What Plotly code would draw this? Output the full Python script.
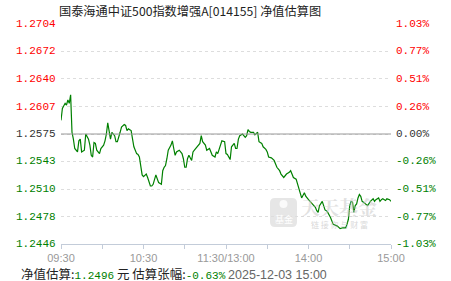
import plotly.graph_objects as go

# ---------------- data ----------------
title_text = "国泰海通中证500指数增强A[014155] 净值估算图"
base_nav = 1.2575
times = ["09:30","09:31","09:33","09:34","09:35","09:36","09:37","09:38","09:39","09:40",
         "09:42","09:43","09:44","09:45","09:47","09:48","09:50","09:51","09:52","09:53",
         "09:54","09:55","09:56","09:58","09:59","10:01","10:02","10:03","10:04","10:05",
         "10:06","10:07","10:09","10:10","10:11","10:13","10:14","10:16","10:17","10:18",
         "10:19","10:21","10:22","10:23","10:25","10:26","10:27","10:28","10:29","10:30",
         "10:32","10:33","10:35","10:36","10:37","10:39","10:40","10:41","10:43","10:44",
         "10:45","10:46","10:47","10:48","10:50","10:51","10:52","10:53","10:54","10:56",
         "10:58","10:59","11:00","11:01","11:02","11:03","11:05","11:06","11:07","11:09",
         "11:11","11:12","11:13","11:15","11:16","11:18","11:19","11:20","11:22","11:23",
         "11:24","11:26","11:27","11:29","11:30","13:01","13:02","13:03","13:04","13:06",
         "13:07","13:08","13:09","13:10","13:12","13:14","13:15","13:16","13:17","13:18",
         "13:20","13:21","13:23","13:24","13:26","13:27","13:29","13:30","13:31","13:33",
         "13:35","13:36","13:37","13:39","13:40","13:42","13:43","13:44","13:46","13:47",
         "13:48","13:49","13:51","13:52","13:54","13:55","13:57","13:58","14:00","14:01",
         "14:02","14:04","14:05","14:06","14:07","14:08","14:10","14:11","14:12","14:13",
         "14:14","14:16","14:17","14:18","14:21","14:22","14:23","14:25","14:27","14:28",
         "14:29","14:30","14:31","14:32","14:33","14:34","14:35","14:36","14:37","14:38",
         "14:39","14:40","14:42","14:43","14:45","14:47","14:48","14:49","14:51","14:52",
         "14:53","14:54","14:56","14:57","14:59","15:00"]
navs = [1.2591,1.2605,1.2611,1.2609,1.2615,1.2611,1.2621,1.2577,1.2569,1.2558,
        1.2554,1.2567,1.2569,1.2554,1.2556,1.2575,1.2569,1.2562,1.2550,1.2548,
        1.2565,1.2564,1.2556,1.2552,1.2558,1.2562,1.2567,1.2575,1.2588,1.2577,
        1.2569,1.2577,1.2573,1.2566,1.2566,1.2577,1.2583,1.2586,1.2585,1.2579,
        1.2581,1.2579,1.2571,1.2560,1.2552,1.2551,1.2548,1.2534,1.2527,1.2525,
        1.2528,1.2524,1.2514,1.2514,1.2516,1.2527,1.2522,1.2518,1.2516,1.2532,
        1.2536,1.2538,1.2546,1.2556,1.2562,1.2567,1.2558,1.2550,1.2554,1.2556,
        1.2552,1.2546,1.2536,1.2536,1.2546,1.2550,1.2544,1.2554,1.2556,1.2560,
        1.2564,1.2573,1.2566,1.2562,1.2556,1.2558,1.2554,1.2550,1.2548,1.2554,
        1.2552,1.2564,1.2567,1.2566,1.2552,1.2551,1.2547,1.2545,1.2560,1.2564,
        1.2558,1.2558,1.2569,1.2573,1.2575,1.2571,1.2573,1.2580,1.2578,1.2577,
        1.2577,1.2574,1.2577,1.2566,1.2564,1.2560,1.2557,1.2554,1.2548,1.2547,
        1.2544,1.2540,1.2536,1.2532,1.2528,1.2524,1.2526,1.2528,1.2530,1.2532,
        1.2528,1.2524,1.2522,1.2516,1.2506,1.2500,1.2506,1.2502,1.2498,1.2496,
        1.2495,1.2491,1.2489,1.2485,1.2483,1.2491,1.2496,1.2491,1.2486,1.2485,
        1.2483,1.2477,1.2473,1.2469,1.2467,1.2465,1.2464,1.2465,1.2465,1.2469,
        1.2475,1.2491,1.2496,1.2495,1.2483,1.2491,1.2493,1.2500,1.2504,1.2502,
        1.2496,1.2495,1.2493,1.2491,1.2496,1.2499,1.2496,1.2498,1.2500,1.2496,
        1.2498,1.2499,1.2497,1.2499,1.2498,1.2496]

nav_ticks = ["1.2704","1.2672","1.2640","1.2607","1.2575","1.2543","1.2510","1.2478","1.2446"]
pct_ticks = ["1.03%","0.77%","0.51%","0.26%","0.00%","-0.26%","-0.51%","-0.77%","-1.03%"]
x_tick_times = ["09:30","10:00","10:30","11:00","11:30","13:30","14:00","14:30","15:00"]
x_tick_labels = ["09:30","","10:30","","11:30/13:00","","14:00","","15:00"]

est_nav = "1.2496"
est_pct = "-0.63%"
est_time = "2025-12-03 15:00"

# ---------------- helpers ----------------
def minute_index(t):
    h, m = map(int, t.split(":"))
    mins = h * 60 + m
    if mins <= 11 * 60 + 30:
        return mins - (9 * 60 + 30)
    return 120 + mins - 13 * 60

x_idx = [minute_index(t) for t in times]
x_tick_vals = [minute_index(t) for t in x_tick_times]

RED = "#ff0000"
GREEN = "#008000"
DARK = "#333333"

W, H = 451, 281
ML, MR, MT, MB = 61, 60, 24, 37
PW, PH = W - ML - MR, H - MT - MB

def px(x):
    return (x - ML) / PW

def py(y):
    return (H - MB - y) / PH

fig = go.Figure()
fig.add_trace(go.Scatter(x=x_idx, y=navs, mode="lines",
                         line=dict(color=GREEN, width=1.2), hoverinfo="skip",
                         showlegend=False))

ymin, ymax = float(nav_ticks[-1]), float(nav_ticks[0])

annotations = []
for nv, pc in zip(nav_ticks, pct_ticks):
    v = float(nv)
    if abs(v - base_nav) < 1e-9:
        col = DARK
    elif v > base_nav:
        col = RED
    else:
        col = GREEN
    annotations.append(dict(x=0, xref="paper", y=v, yref="y", text=nv, showarrow=False,
                            xanchor="right", yanchor="middle", xshift=-3,
                            font=dict(family="Liberation Mono, monospace", size=11, color=col)))
    annotations.append(dict(x=1, xref="paper", y=v, yref="y", text=pc, showarrow=False,
                            xanchor="left", yanchor="middle", xshift=3,
                            font=dict(family="Liberation Mono, monospace", size=11, color=col)))

# title
annotations.append(dict(x=px(57), xref="paper", y=py(11), yref="paper", text=title_text,
                        showarrow=False, xanchor="left", yanchor="middle",
                        font=dict(family="Noto Sans CJK SC", size=12.2, color="#222222")))

# bottom info line
mono = "font-family:Liberation Mono;font-size:11px"
sp = "\u00a0"
info = ("净值估算:" +
        f"<span style='color:{GREEN};{mono}'>{est_nav}</span>" +
        f"{sp}元{sp}估算张幅:" +
        f"<span style='color:{GREEN};{mono}'>{est_pct}</span>" +
        f"{sp}<span style='color:#666666;font-family:Liberation Sans;font-size:12.5px'>{est_time}</span>")
annotations.append(dict(x=px(19), xref="paper", y=py(273), yref="paper", text=info,
                        showarrow=False, xanchor="left", yanchor="middle", height=14,
                        font=dict(family="Noto Sans CJK SC", size=12.5, color="#222222")))

# watermark
annotations.append(dict(x=px(339), xref="paper", y=py(206), yref="paper", text="<b>天天基金</b>",
                        showarrow=False, xanchor="center", yanchor="middle",
                        font=dict(family="Noto Serif CJK SC, Noto Sans CJK SC", size=19,
                                  color="rgba(200,200,200,0.55)")))
annotations.append(dict(x=px(339), xref="paper", y=py(224), yref="paper",
                        text="链 接 你 与 财 富", showarrow=False, xanchor="center",
                        yanchor="middle",
                        font=dict(family="Noto Sans CJK SC", size=8,
                                  color="rgba(190,190,190,0.6)")))
annotations.append(dict(x=px(283.5), xref="paper", y=py(219), yref="paper", text="基金",
                        showarrow=False, xanchor="center", yanchor="middle",
                        font=dict(family="Noto Sans CJK SC", size=9, color="#ffffff")))

x0, x1, y0, y1, r = px(270), px(297), py(227), py(198), 5
rx, ry = r / PW, r / PH
icon_path = (f"M {x0+rx},{y0} L {x1-rx},{y0} Q {x1},{y0} {x1},{y0+ry} "
             f"L {x1},{y1-ry} Q {x1},{y1} {x1-rx},{y1} L {x0+rx},{y1} "
             f"Q {x0},{y1} {x0},{y1-ry} L {x0},{y0+ry} Q {x0},{y0} {x0+rx},{y0} Z")

shapes = [
    dict(type="path", path=icon_path, xref="paper", yref="paper",
         fillcolor="#e6e6e6", line=dict(width=0), layer="below"),
    dict(type="circle", xref="paper", yref="paper",
         x0=px(279.5), x1=px(287.5), y0=py(208), y1=py(200),
         fillcolor="rgba(255,255,255,0.8)", line=dict(width=0), layer="below"),
    dict(type="line", xref="paper", yref="y", x0=0, x1=1, y0=base_nav, y1=base_nav,
         line=dict(color="#999999", width=1.2), layer="above"),
]

fig.update_layout(
    width=W, height=H,
    margin=dict(l=ML, r=MR, t=MT, b=MB, pad=0),
    paper_bgcolor="white", plot_bgcolor="white",
    showlegend=False,
    annotations=annotations,
    shapes=shapes,
    xaxis=dict(range=[0, 240], tickmode="array", tickvals=x_tick_vals, ticktext=x_tick_labels,
               showgrid=False, zeroline=False, showline=True, linecolor="#c3ccd9",
               linewidth=1, ticks="outside", ticklen=4, tickcolor="#c3ccd9",
               tickfont=dict(family="Liberation Sans, Arial", size=11, color="#999999"),
               fixedrange=True),
    yaxis=dict(range=[ymin, ymax], tickmode="array", tickvals=[float(v) for v in nav_ticks],
               showticklabels=False, showgrid=True, gridcolor="#dddddd", griddash="dot",
               gridwidth=1, zeroline=False, showline=False, fixedrange=True),
)

fig.write_html("out.html", config={"displayModeBar": False})
